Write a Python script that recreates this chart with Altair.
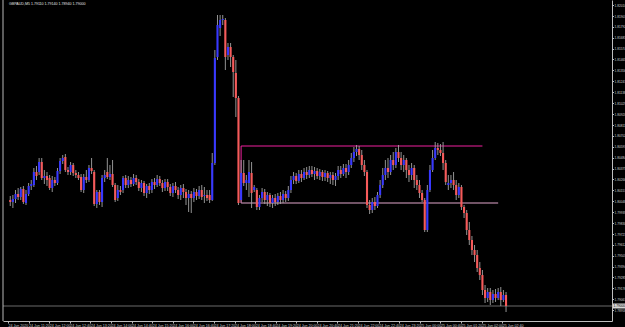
import json
import altair as alt
import pandas as pd

symbol_title = "GBPAUD,M5  1.79110 1.79140 1.78940 1.79000"

opens = [
    1.8006,1.8004,1.8007,1.8012,1.8009,1.8017,1.8003,1.8012,1.8020,1.8021,
    1.8034,1.8034,1.8044,1.8028,1.8030,1.8028,1.8018,1.8026,1.8023,1.8035,
    1.8045,1.8049,1.8036,1.8034,1.8041,1.8033,1.8031,1.8029,1.8016,1.8029,
    1.8026,1.8038,1.8034,1.8002,1.8014,1.8004,1.8028,1.8034,1.8029,1.8032,
    1.8021,1.8008,1.8016,1.8016,1.8028,1.8021,1.8026,1.8022,1.8028,1.8024,
    1.8018,1.8023,1.8013,1.8020,1.8016,1.8024,1.8021,1.8027,1.8023,1.8018,
    1.8024,1.8019,1.8013,1.8020,1.8016,1.8011,1.8018,1.8014,1.8008,1.8012,
    1.8008,1.8014,1.8010,1.8016,1.8010,1.8011,1.8011,1.8006,1.8043,1.8149,
    1.8178,1.8186,1.8186,1.8151,1.8159,1.8149,1.8133,1.8108,1.8006,1.8033,
    1.8023,1.8023,1.8033,1.8016,1.8016,1.7999,1.8008,1.8014,1.8006,1.8011,
    1.8003,1.8008,1.8004,1.8010,1.8006,1.8012,1.8008,1.8016,1.8026,1.8030,
    1.8025,1.8032,1.8028,1.8034,1.8031,1.8036,1.8032,1.8035,1.8030,1.8034,
    1.8029,1.8033,1.8028,1.8031,1.8026,1.8030,1.8036,1.8032,1.8038,1.8034,
    1.8041,1.8048,1.8054,1.8057,1.8051,1.8041,1.8034,1.8001,1.7996,1.8004,
    1.8000,1.8011,1.8021,1.8031,1.8038,1.8034,1.8046,1.8041,1.8054,1.8048,
    1.8041,1.8046,1.8036,1.8031,1.8038,1.8026,1.8021,1.8013,1.8006,1.7976,
    1.8016,1.8036,1.8048,1.8058,1.8056,1.8053,1.8043,1.8021,1.8023,1.8026,
    1.8021,1.8011,1.8019,1.7999,1.7993,1.7976,1.7966,1.7956,1.7951,1.7938,
    1.7931,1.7916,1.7908,1.7914,1.7906,1.7912,1.7908,1.7914,1.7906,1.7911,
]
highs = [
    1.8010,1.8011,1.8016,1.8018,1.8019,1.8020,1.8016,1.8023,1.8026,1.8038,
    1.8040,1.8048,1.8048,1.8036,1.8034,1.8031,1.8030,1.8029,1.8038,1.8048,
    1.8051,1.8052,1.8039,1.8044,1.8043,1.8036,1.8034,1.8032,1.8032,1.8036,
    1.8041,1.8048,1.8036,1.8016,1.8016,1.8031,1.8036,1.8048,1.8041,1.8046,
    1.8023,1.8021,1.8020,1.8030,1.8031,1.8030,1.8029,1.8032,1.8031,1.8027,
    1.8026,1.8025,1.8022,1.8023,1.8027,1.8028,1.8031,1.8030,1.8026,1.8027,
    1.8027,1.8022,1.8023,1.8024,1.8019,1.8021,1.8022,1.8017,1.8016,1.8015,
    1.8018,1.8017,1.8020,1.8021,1.8019,1.8016,1.8016,1.8053,1.8156,1.8191,
    1.8191,1.8191,1.8188,1.8163,1.8163,1.8151,1.8146,1.8110,1.8046,1.8046,
    1.8031,1.8046,1.8044,1.8021,1.8018,1.8011,1.8018,1.8017,1.8014,1.8013,
    1.8011,1.8012,1.8013,1.8014,1.8016,1.8015,1.8020,1.8030,1.8034,1.8033,
    1.8036,1.8036,1.8038,1.8039,1.8040,1.8040,1.8039,1.8038,1.8037,1.8036,
    1.8036,1.8035,1.8034,1.8034,1.8033,1.8040,1.8040,1.8042,1.8042,1.8046,
    1.8053,1.8059,1.8061,1.8060,1.8056,1.8046,1.8036,1.8006,1.8008,1.8009,
    1.8014,1.8026,1.8038,1.8046,1.8048,1.8051,1.8054,1.8058,1.8061,1.8054,
    1.8051,1.8048,1.8041,1.8043,1.8041,1.8031,1.8026,1.8016,1.8008,1.8021,
    1.8041,1.8056,1.8064,1.8063,1.8062,1.8064,1.8046,1.8031,1.8031,1.8034,
    1.8026,1.8023,1.8021,1.8001,1.7996,1.7984,1.7970,1.7961,1.7956,1.7944,
    1.7936,1.7921,1.7918,1.7918,1.7916,1.7917,1.7918,1.7919,1.7916,1.7914,
]
lows = [
    1.8000,1.7998,1.8003,1.8006,1.8006,1.8002,1.8001,1.8010,1.8016,1.8019,
    1.8026,1.8031,1.8026,1.8022,1.8020,1.8016,1.8014,1.8020,1.8021,1.8032,
    1.8042,1.8034,1.8031,1.8031,1.8030,1.8028,1.8026,1.8014,1.8013,1.8023,
    1.8024,1.8032,1.8000,1.7998,1.8001,1.7999,1.8024,1.8027,1.8026,1.8019,
    1.8004,1.8005,1.8011,1.8013,1.8018,1.8018,1.8019,1.8020,1.8021,1.8015,
    1.8014,1.8010,1.8008,1.8012,1.8013,1.8017,1.8019,1.8020,1.8014,1.8015,
    1.8015,1.8010,1.8009,1.8013,1.8007,1.8006,1.8008,1.8001,1.7994,1.7993,
    1.8004,1.8006,1.8007,1.8006,1.8003,1.8005,1.8003,1.8005,1.8041,1.8146,
    1.8170,1.8181,1.8136,1.8146,1.8139,1.8109,1.8089,1.8001,1.8003,1.8020,
    1.8016,1.8009,1.7998,1.8014,1.7996,1.7996,1.8004,1.8002,1.8000,1.7999,
    1.7998,1.8000,1.8001,1.8002,1.8003,1.8004,1.8005,1.8013,1.8022,1.8022,
    1.8023,1.8024,1.8026,1.8027,1.8028,1.8029,1.8026,1.8027,1.8026,1.8025,
    1.8025,1.8024,1.8022,1.8021,1.8020,1.8026,1.8028,1.8030,1.8028,1.8031,
    1.8038,1.8044,1.8050,1.8046,1.8036,1.8030,1.7998,1.7992,1.7993,1.7996,
    1.7998,1.8008,1.8018,1.8026,1.8028,1.8031,1.8036,1.8038,1.8044,1.8036,
    1.8034,1.8028,1.8024,1.8026,1.8018,1.8016,1.8008,1.8004,1.7974,1.7974,
    1.8014,1.8034,1.8046,1.8051,1.8050,1.8036,1.8021,1.8016,1.8018,1.8016,
    1.8006,1.8008,1.7996,1.7988,1.7971,1.7961,1.7951,1.7944,1.7934,1.7926,
    1.7911,1.7903,1.7904,1.7901,1.7903,1.7904,1.7906,1.7900,1.7904,1.7894,
]
closes = [
    1.8004,1.8007,1.8012,1.8009,1.8017,1.8004,1.8012,1.8020,1.8022,1.8034,
    1.8030,1.8044,1.8028,1.8030,1.8026,1.8018,1.8026,1.8023,1.8035,1.8045,
    1.8048,1.8036,1.8034,1.8041,1.8033,1.8031,1.8028,1.8016,1.8029,1.8026,
    1.8038,1.8035,1.8002,1.8014,1.8004,1.8028,1.8031,1.8029,1.8032,1.8021,
    1.8006,1.8016,1.8014,1.8028,1.8021,1.8026,1.8022,1.8028,1.8024,1.8018,
    1.8023,1.8013,1.8020,1.8016,1.8024,1.8021,1.8027,1.8023,1.8018,1.8024,
    1.8019,1.8013,1.8020,1.8016,1.8011,1.8018,1.8014,1.8008,1.8012,1.8008,
    1.8014,1.8010,1.8016,1.8009,1.8011,1.8008,1.8006,1.8043,1.8148,1.8181,
    1.8186,1.8187,1.8149,1.8159,1.8149,1.8134,1.8108,1.8003,1.8033,1.8023,
    1.8026,1.8034,1.8013,1.8019,1.7999,1.8008,1.8014,1.8006,1.8011,1.8003,
    1.8008,1.8004,1.8010,1.8006,1.8012,1.8008,1.8016,1.8026,1.8030,1.8025,
    1.8032,1.8028,1.8034,1.8031,1.8036,1.8032,1.8035,1.8030,1.8034,1.8029,
    1.8033,1.8028,1.8031,1.8026,1.8030,1.8036,1.8032,1.8038,1.8034,1.8041,
    1.8048,1.8054,1.8057,1.8051,1.8041,1.8034,1.8001,1.7996,1.8004,1.8000,
    1.8011,1.8021,1.8031,1.8038,1.8034,1.8046,1.8041,1.8054,1.8048,1.8041,
    1.8046,1.8036,1.8031,1.8038,1.8026,1.8021,1.8013,1.8006,1.7976,1.8016,
    1.8036,1.8048,1.8058,1.8056,1.8053,1.8043,1.8024,1.8023,1.8026,1.8021,
    1.8011,1.8019,1.7999,1.7993,1.7976,1.7966,1.7956,1.7951,1.7938,1.7931,
    1.7916,1.7908,1.7914,1.7906,1.7912,1.7908,1.7914,1.7906,1.7911,1.7900,
]

time_labels = [
    "24 Jun 2020", "24 Jun 11:20", "24 Jun 12:00", "24 Jun 12:40", "24 Jun 13:20",
    "24 Jun 14:00", "24 Jun 14:40", "24 Jun 15:20", "24 Jun 16:00", "24 Jun 16:40",
    "24 Jun 17:20", "24 Jun 18:00", "24 Jun 18:40", "24 Jun 19:20", "24 Jun 20:00",
    "24 Jun 20:40", "24 Jun 21:20", "24 Jun 22:00", "24 Jun 22:40", "24 Jun 23:20",
    "25 Jun 00:00", "25 Jun 00:40", "25 Jun 01:20", "25 Jun 02:00", "25 Jun 02:40",
]

price_ticks = [
    1.82010, 1.81901, 1.81792, 1.81683, 1.81574, 1.81465, 1.81356, 1.81247,
    1.81138, 1.81029, 1.80920, 1.80811, 1.80702, 1.80593, 1.80484, 1.80375,
    1.80266, 1.80157, 1.80048, 1.79939, 1.79830, 1.79721, 1.79612, 1.79503,
    1.79394, 1.79285, 1.79176, 1.79067, 1.78958,
]

level_prices = [1.8060, 1.8003]
level_from = [88, 88]
level_to = [180, 186]
level_colors = ["#f0209e", "#e2a6cc"]

bid_price = closes[-1]

# ---- layout constants ----
W, H = 609, 321
x_dom = [-0.862, 227.49]
y_dom = [1.7885, 1.8206]
tick_start, tick_step = -0.85, 7.85
tick_pos = [tick_start + tick_step * k for k in range(len(time_labels))]
label_expr = json.dumps(time_labels) + "[round((datum.value - (%f)) / %f)]" % (tick_start, tick_step)

n = len(opens)
df = pd.DataFrame({"bar": list(range(n)), "open": opens, "high": highs,
                   "low": lows, "close": closes})
df["dir"] = ["up" if c >= o else "down" for o, c in zip(opens, closes)]

xscale = alt.Scale(domain=x_dom, nice=False, zero=False)
yscale = alt.Scale(domain=y_dom, nice=False, zero=False)
FONT = "Liberation Sans"
xaxis = alt.Axis(values=tick_pos, labelExpr=label_expr, title=None, grid=False,
                 orient="bottom", labelAlign="left", labelBaseline="top",
                 labelPadding=0, tickSize=2, labelFontSize=3.6, labelFont=FONT,
                 labelColor="#cfcfcf", tickColor="#bdbdbd", domainColor="#bdbdbd",
                 labelOverlap=False, labelFlush=False, labelBound=False, domainWidth=1)
yaxis = alt.Axis(values=price_ticks, format=".5f", title=None, grid=False,
                 orient="right", labelPadding=0.5, tickSize=1.5, labelFontSize=3.2,
                 labelFont=FONT, labelColor="#cfcfcf", tickColor="#bdbdbd",
                 domainColor="#bdbdbd", labelOverlap=False, labelFlush=False,
                 labelBound=False, labelBaseline="middle")

X = alt.X("bar:Q", scale=xscale, axis=xaxis)

bid_df = pd.DataFrame({"bid": [bid_price]})
bid_line = alt.Chart(bid_df).mark_rule(color="#767676", strokeWidth=0.9).encode(
    y=alt.Y("bid:Q", scale=yscale, axis=yaxis))

wicks = alt.Chart(df).mark_rule(color="#a4a4a4", strokeWidth=0.9).encode(
    x=X, y=alt.Y("low:Q", scale=yscale, axis=yaxis), y2="high:Q")

bodies = alt.Chart(df).mark_bar(width=2.1).encode(
    x=X, y=alt.Y("open:Q", scale=yscale, axis=yaxis), y2="close:Q",
    color=alt.Color("dir:N", scale=alt.Scale(domain=["up", "down"],
                                             range=["#3838ff", "#f65a5a"]), legend=None))

lv_df = pd.DataFrame({"from": level_from, "to": level_to, "price": level_prices,
                      "color": level_colors})
levels = alt.Chart(lv_df).mark_rule(strokeWidth=1).encode(
    x=alt.X("from:Q", scale=xscale, axis=xaxis), x2="to:Q",
    y=alt.Y("price:Q", scale=yscale, axis=yaxis),
    color=alt.Color("color:N", scale=None))

edge_df = pd.DataFrame({"at": [level_from[0]], "top": [level_prices[0]],
                        "bottom": [level_prices[1]]})
edge = alt.Chart(edge_df).mark_rule(color=level_colors[0], strokeWidth=1).encode(
    x=alt.X("at:Q", scale=xscale, axis=xaxis),
    y=alt.Y("bottom:Q", scale=yscale, axis=yaxis), y2="top:Q")

left_border = alt.Chart(bid_df).mark_rule(color="#b8b8b8", strokeWidth=1).encode(
    x=alt.value(0), y=alt.value(0), y2=alt.value(H))

bid_box = alt.Chart(bid_df).mark_rule(color="#d6d6d6", strokeWidth=5).encode(
    y=alt.Y("bid:Q", scale=yscale, axis=yaxis), x=alt.value(W + 1), x2=alt.value(W + 16))
bid_text = alt.Chart(bid_df).mark_text(align="left", baseline="middle", fontSize=3.2,
                                       font=FONT, color="#000000").encode(
    y=alt.Y("bid:Q", scale=yscale, axis=yaxis), x=alt.value(W + 1.5),
    text=alt.Text("bid:Q", format=".5f"))

title_df = pd.DataFrame({"t": [symbol_title]})
title = alt.Chart(title_df).mark_text(align="left", baseline="top", fontSize=3.6,
                                      font=FONT, color="#e6e6e6").encode(
    x=alt.value(6), y=alt.value(2), text="t:N")

chart = alt.layer(
    bid_line, levels, edge, wicks, bodies, left_border, bid_box, bid_text, title
).properties(
    width=W, height=H, background="#000000",
    padding={"left": 3, "right": 13, "top": 0, "bottom": 6},
    autosize=alt.AutoSizeParams(type="none"),
).configure_view(stroke=None)

chart.save("out.html", embed_options={"renderer": "svg", "actions": False})
